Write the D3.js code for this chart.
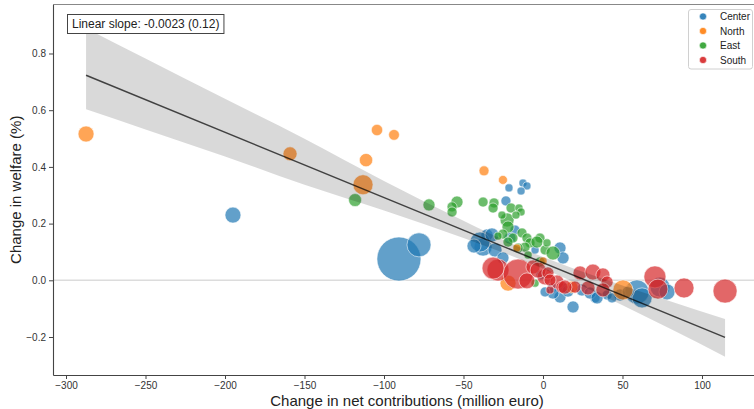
<!DOCTYPE html>
<html>
<head>
<meta charset="utf-8">
<script src="https://cdn.jsdelivr.net/npm/d3@7"></script>
<style>
  body { margin: 0; background: #fff; }
  svg { display: block; font-family: "Liberation Sans", Arial, Helvetica, sans-serif; }
</style>
</head>
<body>
<svg id="chart" width="754" height="409"></svg>
<script>
// Regions and their colours
const regions = ["Center", "North", "East", "South"];
const regionColors = ["#1f77b4", "#ff7f0e", "#2ca02c", "#d62728"];

// Each point: [change in net contributions (M€), change in welfare (%), population weight]
const center = [
  [-195.0, 0.230, 7.9], [-90.6, 0.075, 60], [-78.0, 0.125, 17.9],
  [-12.6, 0.343, 2], [-10.1, 0.333, 2], [-13.8, 0.315, 2], [-21.4, 0.326, 2],
  [-23.3, 0.280, 3.1], [-37.7, 0.117, 10], [-30.2, 0.107, 6.1], [-35.2, 0.160, 4.5],
  [-25.2, 0.079, 4.5], [-39.6, 0.135, 12.4], [-32.1, 0.160, 6.1], [10.7, 0.114, 4.5],
  [12.6, 0.079, 4.5], [-5.0, 0.107, 2], [5.7, -0.027, 3.1], [10.7, -0.059, 4.5],
  [18.9, -0.094, 4.5], [24.5, -0.034, 4.5], [32.7, -0.062, 3.1], [40.3, -0.052, 3.1],
  [59.1, -0.041, 17.9], [62.3, -0.062, 12.4], [73.6, -0.024, 12.4], [78.0, -0.041, 7.9],
  [6.3, -0.045, 4.5], [12.6, -0.027, 3.1], [29.6, -0.045, 4.5], [34.0, -0.062, 4.5],
  [-17.6, 0.177, 3.1], [-20.8, 0.149, 4.5], [1.3, -0.041, 3.1], [48.4, -0.052, 4.5],
  [53.5, -0.041, 4.5], [-43.4, 0.121, 6.1], [43.4, -0.062, 3.1], [-1.3, 0.019, 3.1],
  [15.7, -0.038, 4.5]
];
const north = [
  [-287.4, 0.516, 7.9], [-159.1, 0.446, 6.1], [-104.4, 0.530, 4.0], [-93.7, 0.513, 3.6],
  [-111.3, 0.424, 5.5], [-113.2, 0.337, 12.4], [-37.1, 0.386, 3.1], [-25.2, 0.354, 2.5],
  [-16.4, 0.114, 2], [0.0, 0.068, 2], [-22.0, -0.010, 7.9], [18.2, -0.024, 4.5],
  [50.3, -0.034, 12.4]
];
const east = [
  [-118.2, 0.283, 5.2], [-71.7, 0.266, 4.5], [-54.1, 0.276, 4.5], [-57.2, 0.259, 3.1],
  [-57.2, 0.241, 3.1], [-37.7, 0.276, 3.1], [-30.8, 0.273, 3.1], [-31.4, 0.255, 3.1],
  [-20.1, 0.255, 3.1], [-15.1, 0.255, 2], [-13.8, 0.241, 2], [-22.6, 0.213, 6.1],
  [-25.8, 0.230, 2], [-17.0, 0.230, 2], [-22.0, 0.188, 4.5], [-25.2, 0.163, 3.1],
  [-18.9, 0.149, 3.1], [-13.2, 0.167, 3.1], [-10.1, 0.149, 3.1], [-8.2, 0.132, 3.1],
  [-11.3, 0.117, 3.1], [-9.4, 0.089, 2], [-15.7, 0.114, 3.1], [-22.0, 0.135, 3.1],
  [-1.9, 0.149, 3.1], [-3.8, 0.135, 4.5], [1.3, 0.107, 3.1], [6.3, 0.096, 6.1],
  [-5.0, -0.010, 2], [-28.3, 0.156, 2], [2.5, 0.132, 2], [-1.9, 0.065, 3.1]
];
const south = [
  [-28.3, 0.036, 15], [-15.7, 0.022, 27.9], [-10.1, -0.002, 7.9], [-6.3, 0.047, 6.1],
  [1.3, 0.012, 7.9], [8.8, -0.006, 6.1], [11.9, -0.024, 4.5], [23.3, 0.026, 6.1],
  [31.4, 0.029, 7.9], [37.7, 0.019, 6.1], [40.3, -0.006, 4.5], [20.1, -0.024, 4.5],
  [4.4, -0.034, 2], [28.3, -0.027, 6.1], [37.7, -0.034, 6.1], [70.4, 0.012, 15],
  [72.3, -0.031, 12.4], [88.7, -0.027, 12.4], [114.5, -0.038, 17.9], [-3.1, 0.036, 7.9],
  [3.1, 0.026, 4.5], [4.4, 0.001, 4.5], [13.8, -0.024, 6.1], [-31.4, 0.043, 15]
];

// Axis ticks
const xTicks = [-300, -250, -200, -150, -100, -50, 0, 50, 100];
const yTicks = [-0.2, 0.0, 0.2, 0.4, 0.6, 0.8];

// Linear fit and its confidence band (distance above / below the fitted line)
const slope = -0.0023;
const intercept = 0.062;
const ciX     = [-287.4, -250, -200, -150, -100, -50, -20, 0, 20, 50, 80, 114.5];
const ciAbove = [0.166, 0.145, 0.118, 0.092, 0.058, 0.033, 0.022, 0.020, 0.024, 0.035, 0.048, 0.065];
const ciBelow = [0.120, 0.105, 0.085, 0.070, 0.046, 0.028, 0.021, 0.020, 0.024, 0.035, 0.049, 0.068];
const slopeLabel = "Linear slope: -0.0023 (0.12)";

const xLabel = "Change in net contributions (million euro)";
const yLabel = "Change in welfare (%)";

// ---- layout ----
const plot = { left: 53, right: 761, top: 4.5, bottom: 375 };
const svg = d3.select("#chart");

const x = d3.scaleLinear().domain([-308.18, 137.11]).range([plot.left, plot.right]);
const y = d3.scaleLinear().domain([-0.334, 0.9728]).range([plot.bottom, plot.top]);
const r = d3.scaleSqrt().domain([0, 60]).range([0, 22]);

svg.append("defs").append("clipPath").attr("id", "plotClip")
  .append("rect")
  .attr("x", plot.left).attr("y", plot.top)
  .attr("width", plot.right - plot.left).attr("height", plot.bottom - plot.top);

const body = svg.append("g").attr("clip-path", "url(#plotClip)");

// zero reference line
body.append("line")
  .attr("x1", plot.left).attr("x2", plot.right)
  .attr("y1", y(0)).attr("y2", y(0))
  .attr("stroke", "#dcdcdc").attr("stroke-width", 1.5);

// bubbles
const groups = [center, north, east, south];
const drawOrder = [0, 2, 1, 3];
drawOrder.forEach(gi => {
  body.append("g").selectAll("circle")
    .data(groups[gi])
    .join("circle")
    .attr("cx", d => x(d[0]))
    .attr("cy", d => y(d[1]))
    .attr("r", d => r(d[2]))
    .attr("fill", regionColors[gi])
    .attr("fill-opacity", 0.7)
    .attr("stroke", "#fff")
    .attr("stroke-opacity", 0.7)
    .attr("stroke-width", 0.8);
});

// confidence band
const band = ciX.map((v, i) => ({ x: v, fit: intercept + slope * v, hi: ciAbove[i], lo: ciBelow[i] }));
body.append("path")
  .datum(band)
  .attr("d", d3.area()
    .x(d => x(d.x))
    .y0(d => y(d.fit - d.lo))
    .y1(d => y(d.fit + d.hi))
    .curve(d3.curveMonotoneX))
  .attr("fill", "#000").attr("fill-opacity", 0.15);

// fitted line over the data range
const allX = groups.flat().map(d => d[0]);
const [xMin, xMax] = d3.extent(allX);
body.append("line")
  .attr("x1", x(xMin)).attr("y1", y(intercept + slope * xMin))
  .attr("x2", x(xMax)).attr("y2", y(intercept + slope * xMax))
  .attr("stroke", "#000").attr("stroke-opacity", 0.7).attr("stroke-width", 1.5);

// ---- axes ----
const fmtY = d3.format(".1f");
const fmtX = d3.format("d");

const xAxis = svg.append("g")
  .attr("transform", `translate(0,${plot.bottom})`)
  .call(d3.axisBottom(x).tickValues(xTicks).tickFormat(fmtX).tickSize(4).tickPadding(3).tickSizeOuter(0));
const yAxis = svg.append("g")
  .attr("transform", `translate(${plot.left},0)`)
  .call(d3.axisLeft(y).tickValues(yTicks).tickFormat(fmtY).tickSize(4).tickPadding(3).tickSizeOuter(0));

[xAxis, yAxis].forEach(a => {
  a.select(".domain").attr("stroke", "#444").attr("stroke-width", 1.1);
  a.selectAll(".tick line").attr("stroke", "#444");
  a.selectAll(".tick text").attr("fill", "#333").style("font-size", "10px")
    .style("font-family", "'Liberation Sans', Arial, sans-serif");
});

// top frame line
svg.append("line")
  .attr("x1", plot.left).attr("x2", plot.right)
  .attr("y1", plot.top).attr("y2", plot.top)
  .attr("stroke", "#888").attr("stroke-width", 1.1);

// axis titles
svg.append("text")
  .attr("x", (plot.left + plot.right) / 2).attr("y", 406)
  .attr("text-anchor", "middle")
  .attr("fill", "#222").style("font-size", "15px")
  .text(xLabel);
svg.append("text")
  .attr("transform", `translate(21,${(plot.top + plot.bottom) / 2}) rotate(-90)`)
  .attr("text-anchor", "middle")
  .attr("fill", "#222").style("font-size", "15px")
  .text(yLabel);

// slope annotation box
const ann = svg.append("g");
const annText = ann.append("text")
  .attr("x", 72).attr("y", 28)
  .attr("fill", "#222").style("font-size", "12px")
  .text(slopeLabel);
const bb = annText.node().getBBox();
ann.insert("rect", "text")
  .attr("x", bb.x - 4.5).attr("y", 14.5)
  .attr("width", bb.width + 9).attr("height", 19)
  .attr("fill", "#fff").attr("stroke", "#444").attr("stroke-width", 1);

// legend
const legend = svg.append("g");
legend.append("rect")
  .attr("x", 688.5).attr("y", 9.5).attr("width", 64).attr("height", 59.5)
  .attr("rx", 2.5)
  .attr("fill", "#fff").attr("fill-opacity", 0.8)
  .attr("stroke", "#d0d0d0").attr("stroke-width", 1);
regions.forEach((name, i) => {
  const cy = 16.5 + i * 14.5;
  legend.append("circle")
    .attr("cx", 703).attr("cy", cy).attr("r", 3.6)
    .attr("fill", regionColors[i]).attr("fill-opacity", 0.9)
    .attr("stroke", "#fff").attr("stroke-width", 0.6);
  legend.append("text")
    .attr("x", 720).attr("y", cy + 3.6)
    .attr("fill", "#222").style("font-size", "10px")
    .text(name);
});
</script>
</body>
</html>
